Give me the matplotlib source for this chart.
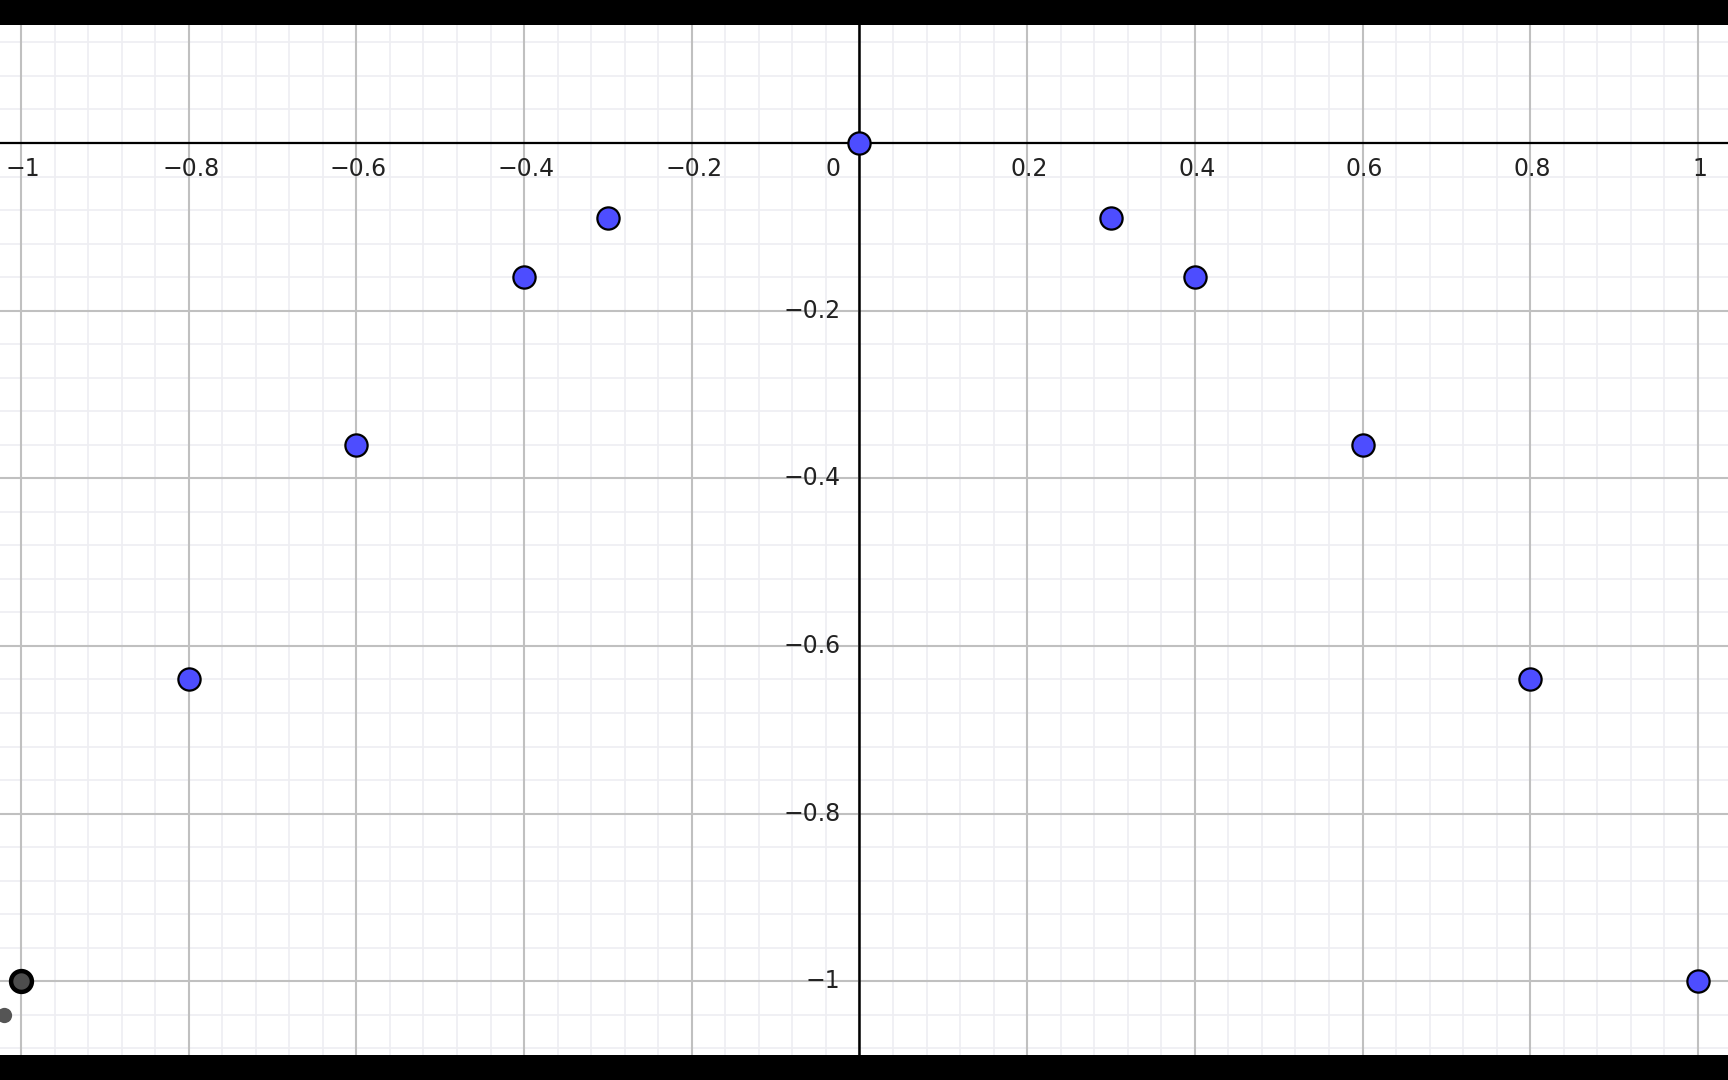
import numpy as np
import matplotlib
matplotlib.use("Agg")
import matplotlib.pyplot as plt

# points (y = -x^2 samples)
blue_x = [0.0, -0.3, 0.3, -0.4, 0.4, -0.6, 0.6, -0.8, 0.8, 1.0]
blue_y = [0.0, -0.09, -0.09, -0.16, -0.16, -0.36, -0.36, -0.64, -0.64, -1.0]
grey_x = [-1.0]
grey_y = [-1.0]
small_x = [-1.02]
small_y = [-1.04]

xtick_vals = [-1, -0.8, -0.6, -0.4, -0.2, 0, 0.2, 0.4, 0.6, 0.8, 1]
ytick_vals = [-0.2, -0.4, -0.6, -0.8, -1]

X_RANGE = (-1.025, 1.0358)
Y_RANGE = (-1.088, 0.1408)


def fmt(v):
    s = f"{v:g}"
    return s.replace("-", "\u2212")


fig = plt.figure(figsize=(17.28, 10.8), dpi=100, facecolor="black")
ax = fig.add_axes([0, 25 / 1080, 1, 1030 / 1080])
ax.set_facecolor("white")
ax.set_xlim(*X_RANGE)
ax.set_ylim(*Y_RANGE)
for s in ax.spines.values():
    s.set_visible(False)
ax.set_xticks([])
ax.set_yticks([])

# grid: minor every 0.04, major every 0.2
minor = np.arange(-1.2, 1.21, 0.04)
major = np.arange(-1.2, 1.21, 0.2)
for v in minor:
    ax.axvline(v, color="#eeeef2", lw=1.2, zorder=0)
    ax.axhline(v, color="#eeeef2", lw=1.2, zorder=0)
for v in major:
    ax.axvline(v, color="#c0c0c0", lw=1.5, zorder=1)
    ax.axhline(v, color="#c0c0c0", lw=1.5, zorder=1)

ax.axhline(0, color="black", lw=1.6, zorder=2)
ax.axvline(0, color="black", lw=1.8, zorder=2)

for v in xtick_vals:
    dx = -26 if v == 0 else 2
    ax.annotate(fmt(v), (v, 0), xytext=(dx, -14), textcoords="offset pixels",
                ha="center", va="top", fontsize=17, color="#222222", zorder=3)
for v in ytick_vals:
    ax.annotate(fmt(v), (0, v), xytext=(-19, 0), textcoords="offset pixels",
                ha="right", va="center", fontsize=17, color="#222222", zorder=3)

ax.plot(blue_x, blue_y, "o", ms=16, mfc="#4d4dff", mec="black", mew=1.6,
        zorder=5, clip_on=False)
ax.plot(grey_x, grey_y, "o", ms=15, mfc="#4d4d4d", mec="black", mew=3.2,
        zorder=5)
ax.plot(small_x, small_y, "o", ms=11, mfc="#555555", mec="#555555", mew=0,
        zorder=5)

fig.savefig("out.png", dpi=100, facecolor="black")
